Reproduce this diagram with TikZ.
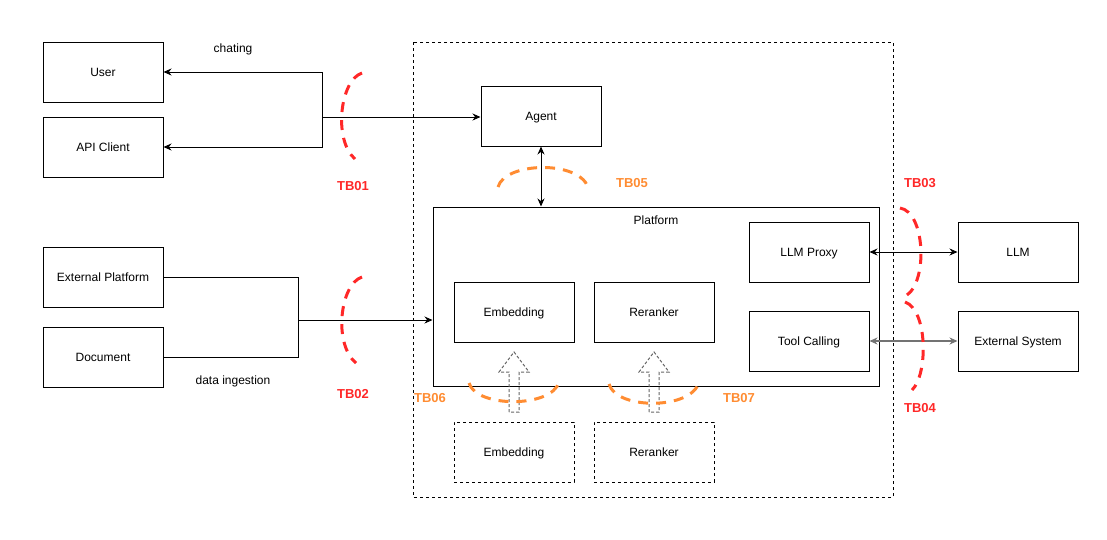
\documentclass[tikz,border=0pt]{standalone}
\usepackage{fontspec}
\setmainfont{Liberation Sans}
\usetikzlibrary{arrows.meta}

\definecolor{tbred}{RGB}{255,40,40}
\definecolor{tborange}{RGB}{255,140,50}

\begin{document}
\begin{tikzpicture}[
    x=1pt, y=-1pt,
    line width=1pt,
    box/.style={rectangle, draw, line width=1pt, minimum width=120, minimum height=60, font=\fontsize{12}{14}\selectfont, inner sep=0pt, text height=8.6pt, text depth=0pt},
    ghostbox/.style={box, dashed, dash pattern=on 3pt off 3pt},
    lbl/.style={font=\fontsize{12}{14}\selectfont, inner sep=0pt},
    tbred/.style={font=\fontsize{13}{15}\selectfont\bfseries, text=tbred, inner sep=0pt},
    tborange/.style={font=\fontsize{13}{15}\selectfont\bfseries, text=tborange, inner sep=0pt},
    redarc/.style={draw=tbred, line width=3pt, dash pattern=on 10pt off 8pt},
    orangearc/.style={draw=tborange, line width=3pt, dash pattern=on 10pt off 8pt},
    arr/.style={-{Stealth[length=8pt, width=7pt]}},
    darr/.style={{Stealth[length=8pt, width=7pt]}-{Stealth[length=8pt, width=7pt]}}
]
\useasboundingbox (0,0) rectangle (1107,539);

% trust zone
\draw[dash pattern=on 3pt off 3pt] (413,42) rectangle (893,497);

% outside actors
\node[box] (user) at (103,72) {User};
\node[box] (apiclient) at (103,147) {API Client};
\node[box] (extplatform) at (103,277) {External Platform};
\node[box] (document) at (103,357) {Document};
\node[box] (llm) at (1018,252) {LLM};
\node[box] (extsystem) at (1018,341) {External System};

% inside
\node[box] (agent) at (541,116) {Agent};
\node[draw, minimum width=446, minimum height=179, inner sep=0pt] (platform) at (656,296.5) {};
\node[lbl] (platformlbl) at (656,220) {Platform};
\node[box] (embedding) at (514,312) {Embedding};
\node[box] (reranker) at (654,312) {Reranker};
\node[box] (llmproxy) at (809,252) {LLM Proxy};
\node[box] (toolcalling) at (809,341) {Tool Calling};
\node[ghostbox] (embeddingext) at (514,452) {Embedding};
\node[ghostbox] (rerankerext) at (654,452) {Reranker};

\node[lbl] (chating) at (233,49) {chating};
\node[lbl] (ingestion) at (233,381) {data ingestion};

% connectors
\coordinate (chatjoin) at (322,117);
\coordinate (datajoin) at (298,320);
\draw[arr] (chatjoin) -- (agent.west |- chatjoin);
\draw[arr] (chatjoin) |- (user.east);
\draw[arr] (chatjoin) |- (apiclient.east);
\draw (extplatform.east) -| (datajoin);
\draw (document.east) -| (datajoin);
\draw[arr] (datajoin) -- (platform.west |- datajoin);
\draw[darr] (agent.south) -- (agent.south |- platform.north);
\draw[darr] (llmproxy) -- (llm);
\draw[darr, draw=black!55, line width=1.5pt] (toolcalling) -- (extsystem);

% hollow upload arrows
\foreach \cx in {514,654}
  \draw[black!60, dash pattern=on 3pt off 2pt] (\cx-5,412) -- (\cx-5,372) -- (\cx-15,372) -- (\cx,352)
    -- (\cx+15,372) -- (\cx+5,372) -- (\cx+5,412) -- cycle;

% trust boundaries
\draw[redarc] (362,73) .. controls (340,80) and (333,140) .. (355,159);
\node[tbred] (tb01) at (353,186) {TB01};
\draw[redarc] (362,277) .. controls (340,284) and (333,344) .. (356,363);
\node[tbred] (tb02) at (353,394) {TB02};
\draw[redarc] (900,208) .. controls (925,212) and (928,280) .. (907,295);
\node[tbred] (tb03) at (920,183) {TB03};
\draw[redarc] (905,302) .. controls (928,310) and (928,375) .. (912,390);
\node[tbred] (tb04) at (920,408) {TB04};
\draw[orangearc] (498,187) .. controls (505,162) and (578,160) .. (588,187);
\node[tborange] (tb05) at (632,183) {TB05};
\draw[orangearc] (469,383) .. controls (476,408) and (552,408) .. (559,382);
\node[tborange] (tb06) at (430,398) {TB06};
\draw[orangearc] (609,384) .. controls (616,410) and (692,410) .. (699,382);
\node[tborange] (tb07) at (739,398) {TB07};

\end{tikzpicture}
\end{document}
